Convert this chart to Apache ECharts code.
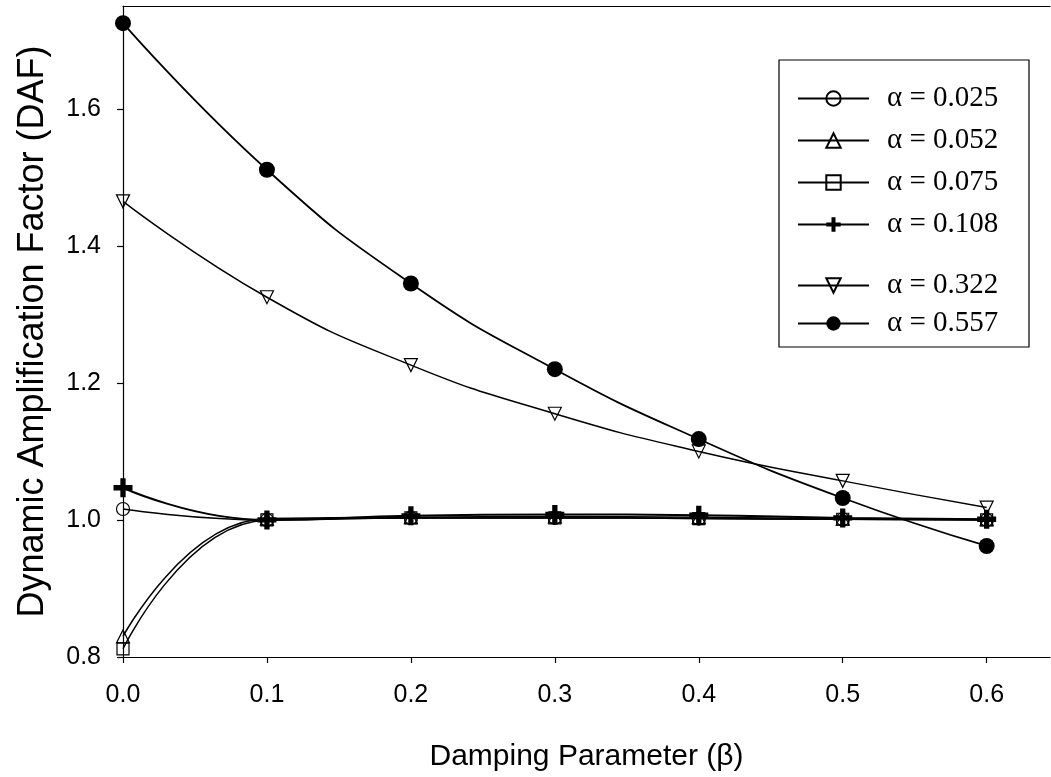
<!DOCTYPE html>
<html>
<head>
<meta charset="utf-8">
<script src="https://cdn.jsdelivr.net/npm/echarts@6/dist/echarts.min.js"></script>
<style>
html,body{margin:0;padding:0;background:#fff;}
#chart{width:1051px;height:777px;}
</style>
</head>
<body>
<div id="chart"></div>
<script>
// ---- data ----
const beta = [0.0, 0.1, 0.2, 0.3, 0.4, 0.5, 0.6];
const seriesNames = ['α = 0.025', 'α = 0.052', 'α = 0.075', 'α = 0.108', 'α = 0.322', 'α = 0.557'];
const daf025 = [1.016, 1.000, 1.003, 1.003, 1.002, 1.001, 1.000];
const daf052 = [0.830, 1.002, 1.004, 1.005, 1.004, 1.002, 1.001];
const daf075 = [0.812, 1.000, 1.003, 1.003, 1.002, 1.001, 1.000];
const daf108 = [1.047, 1.000, 1.006, 1.008, 1.007, 1.003, 1.001];
const daf322 = [1.465, 1.325, 1.226, 1.155, 1.100, 1.057, 1.018];
const daf557 = [1.725, 1.511, 1.345, 1.220, 1.118, 1.032, 0.962];
const xTicks = [0.0, 0.1, 0.2, 0.3, 0.4, 0.5, 0.6];
const yTicks = [0.8, 1.0, 1.2, 1.4, 1.6];

const values = [daf025, daf052, daf075, daf108, daf322, daf557];
const plusPath = 'path://M6.5,0 H11.5 V6.5 H18 V11.5 H11.5 V18 H6.5 V11.5 H0 V6.5 H6.5 Z';
const symbols = [
  {symbol: 'circle', size: 13, fill: 'rgba(0,0,0,0)', bw: 1.2},
  {symbol: 'triangle', size: 13, fill: 'rgba(0,0,0,0)', bw: 1.2},
  {symbol: 'rect', size: 12, fill: 'rgba(0,0,0,0)', bw: 1.2},
  {symbol: plusPath, size: 19, fill: '#000', bw: 0},
  {symbol: 'path://M0,0 L10,0 L5,9 Z', size: 13, fill: 'rgba(0,0,0,0)', bw: 1.2},
  {symbol: 'circle', size: 16, fill: '#000', bw: 0}
];
const lineWidths = [1.5, 1.5, 1.5, 2, 1.5, 1.8];

const series = seriesNames.map((name, i) => ({
  name: name,
  type: 'line',
  xAxisIndex: 0,
  yAxisIndex: 0,
  smooth: 0.5,
  data: beta.map((b, j) => [b, values[i][j]]),
  symbol: symbols[i].symbol,
  symbolSize: symbols[i].size,
  showAllSymbol: true,
  clip: false,
  z: 2 + i,
  lineStyle: {color: '#000', width: lineWidths[i]},
  itemStyle: {color: symbols[i].fill, borderColor: '#000', borderWidth: symbols[i].bw, opacity: 1},
  emphasis: {disabled: true}
}));

const legendTops = [84, 126, 168, 210, 271, 309];
const legends = seriesNames.map((name, i) => ({
  data: [name],
  left: 797,
  top: legendTops[i],
  orient: 'vertical',
  itemWidth: 71,
  itemHeight: 18,
  padding: 0,
  selectedMode: false,
  textStyle: {fontFamily: 'Liberation Serif', fontSize: 29, color: '#000', padding: [0, 0, 0, 13]}
}));

const chart = echarts.init(document.getElementById('chart'), null, {renderer: 'canvas'});
chart.setOption({
  animation: false,
  backgroundColor: '#fff',
  grid: {left: 123, right: 1, top: 6, bottom: 118, containLabel: false},
  legend: legends,
  graphic: [{
    type: 'rect',
    shape: {x: 779, y: 60, width: 250, height: 287},
    style: {fill: 'none', stroke: '#000', lineWidth: 1.2},
    z: 100
  }],
  xAxis: [{
    type: 'value',
    min: 0,
    max: 0.644,
    interval: 0.1,
    position: 'bottom',
    name: 'Damping Parameter (β)',
    nameLocation: 'middle',
    nameGap: 85,
    nameTextStyle: {fontFamily: 'Liberation Sans', fontSize: 30, color: '#000'},
    axisLine: {show: true, onZero: false, lineStyle: {color: '#000', width: 1.2}},
    axisTick: {show: true, inside: false, length: 6, customValues: xTicks, lineStyle: {color: '#000', width: 1.2}},
    axisLabel: {customValues: xTicks, margin: 26, fontFamily: 'Liberation Sans', fontSize: 25, color: '#000',
      formatter: v => v.toFixed(1)},
    splitLine: {show: false}
  }, {
    type: 'value',
    min: 0,
    max: 0.644,
    position: 'top',
    axisLine: {show: true, onZero: false, lineStyle: {color: '#000', width: 1.2}},
    axisTick: {show: false},
    axisLabel: {show: false},
    splitLine: {show: false}
  }],
  yAxis: [{
    type: 'value',
    min: 0.8,
    max: 1.75,
    interval: 0.2,
    name: 'Dynamic Amplification Factor (DAF)',
    nameLocation: 'middle',
    nameGap: 72,
    nameTextStyle: {fontFamily: 'Liberation Sans', fontSize: 36, color: '#000'},
    axisLine: {show: true, onZero: false, lineStyle: {color: '#000', width: 1.2}},
    axisTick: {show: true, inside: false, length: 6, customValues: yTicks, lineStyle: {color: '#000', width: 1.2}},
    axisLabel: {customValues: yTicks, margin: 22, fontFamily: 'Liberation Sans', fontSize: 25, color: '#000',
      formatter: v => v.toFixed(1)},
    splitLine: {show: false}
  }],
  series: series
});
</script>
</body>
</html>
